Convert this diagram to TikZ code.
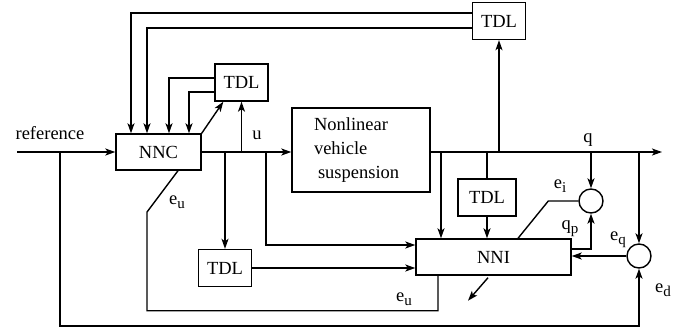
\documentclass[tikz,border=0pt]{standalone}
\usepackage{fontspec}
\setmainfont{Liberation Serif}
\newfontfamily\diagfont{Liberation Serif}
\usetikzlibrary{arrows.meta}
\newcommand{\lowsub}[1]{\raisebox{-0.45ex}{\fontsize{15}{15}\selectfont #1}}

\begin{document}
\begin{tikzpicture}[
        x=1pt, y=-1pt,
        line width=1.4pt,
        font=\diagfont\fontsize{18.5}{24}\selectfont,
        >={Stealth[length=10pt,width=7pt,inset=2.5pt]},
        box/.style={draw, rectangle, inner sep=0pt},
        tdl/.style={box, minimum width=53pt, minimum height=37pt},
        sumnode/.style={draw, circle, minimum size=24pt, inner sep=0pt}
    ]
        \useasboundingbox (0,0) rectangle (683,330);

        % blocks
        \node[box, minimum width=85pt, minimum height=36pt] (nnc) at (158.5,152) {NNC};
        \node[box, minimum width=138pt, minimum height=84pt, text width=94pt, align=left] (plant) at (361,150) {Nonlinear\\vehicle\\\hspace{4pt}suspension};
        \node[box, minimum width=155pt, minimum height=36pt] (nni) at (493.5,257) {NNI};
        \node[tdl] (tdlA) at (241.5,82.5) {TDL};
        \node[tdl] (tdlB) at (499,21) {TDL};
        \node[tdl] (tdlC) at (225,268) {TDL};
        \node[tdl, minimum width=58pt] (tdlD) at (487,197.5) {TDL};
        \node[sumnode] (sumI) at (591,201) {};
        \node[sumnode] (sumQ) at (639,256) {};

        % signal labels
        \node (reflab) at (50,133) {reference};
        \node (ulab) at (257,135) {u};
        \node (qlab) at (588,140) {q};
        \node (eulabA) at (177,202) {e\lowsub{u}};
        \node (eulabB) at (404,299) {e\lowsub{u}};
        \node (eilab) at (560,186) {e\lowsub{i}};
        \node (qplab) at (570,229) {q\lowsub{p}};
        \node (eqlab) at (618,240) {e\lowsub{q}};
        \node (edlab) at (663,290) {e\lowsub{d}};

        % reference input and outer loop
        \coordinate (refin) at (17,152);
        \coordinate (refB) at (60,152);
        \coordinate (botL) at (60,326);
        \draw[->] (refin) -- (nnc.west);
        \draw[->] (refB) -- (botL) -| (sumQ.south);

        % control signal u
        \coordinate (uC) at (266,152);
        \draw[->] (nnc.east) -- (nnc.east -| plant.west);
        \draw[->] (tdlA.south |- nnc.east) -- (tdlA.south);
        \draw[->] (tdlC.north |- nnc.east) -- (tdlC.north);
        \draw[->] (nnc.north east) -- ([xshift=9pt]tdlA.south west);
        \draw[->] (uC) |- ([yshift=12pt]nni.west);
        \draw[->] (tdlC.east) -- (tdlC.east -| nni.west);

        % delayed signals back into NNC
        \draw[->] ([yshift=4.5pt]tdlA.west) -| ([xshift=10.5pt]nnc.north);
        \draw[->] ([yshift=-9.5pt]tdlA.west) -| ([xshift=30.5pt]nnc.north);
        \draw[->] ([yshift=8pt]tdlB.west) -| ([xshift=-27.5pt]nnc.north);
        \draw[->] ([yshift=-7pt]tdlB.west) -| ([xshift=-11.5pt]nnc.north);

        % plant output q
        \coordinate (qout) at (662,152);
        \coordinate (qA) at (441,152);
        \draw[->] (plant.east |- qout) -- (qout);
        \draw[->] (qA) -- (qA |- nni.north);
        \draw (tdlD.north |- qA) -- (tdlD.north);
        \draw[->] (tdlD.south) -- (tdlD.south |- nni.north);
        \draw[->] (tdlB.south |- qA) -- (tdlB.south);
        \draw[->] (sumI.north |- qA) -- (sumI.north);
        \draw[->] (sumQ.north |- qA) -- (sumQ.north);

        % errors
        \coordinate (eubend) at (147,212);
        \draw (sumI.west) -- ++(-30,0) -- ([xshift=24.5pt]nni.north);
        \draw[->] ([yshift=8pt]nni.east) -| (sumI.south);
        \draw[->] (sumQ.west) -- (sumQ.west -| nni.east);
        \draw ([xshift=-55.5pt]nni.south) -- ++(0,35) -| (eubend) -- ([xshift=19.5pt]nnc.south);
        \draw[->] ([xshift=-5.5pt,yshift=-2pt]nni.south) -- ++(-20,23) coordinate (adapt);
    \end{tikzpicture}
\end{document}
